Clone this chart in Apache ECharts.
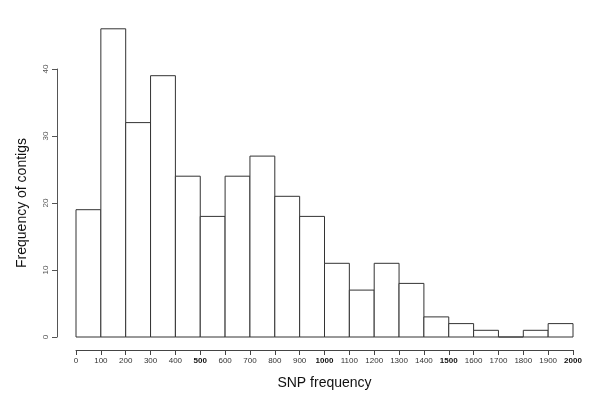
<!DOCTYPE html>
<html>
<head>
<meta charset="utf-8">
<script src="https://cdn.jsdelivr.net/npm/echarts@6/dist/echarts.min.js"></script>
<style>
  html, body { margin: 0; padding: 0; background: #fff; }
  #chart { width: 600px; height: 406px; }
</style>
</head>
<body>
<div id="chart"></div>
<script>
// histogram bins (width 100) and counts
const binStarts = [0, 100, 200, 300, 400, 500, 600, 700, 800, 900, 1000, 1100, 1200, 1300, 1400, 1500, 1600, 1700, 1800, 1900]
const binWidth = 100
const counts = [19, 46, 32, 39, 24, 18, 24, 27, 21, 18, 11, 7, 11, 8, 3, 2, 1, 0, 1, 2]
const boldTicks = [500, 1000, 1500, 2000]

const chart = echarts.init(document.getElementById('chart'))

const barData = binStarts.map((s, i) => [s, s + binWidth, counts[i]])

chart.setOption({
  animation: false,
  textStyle: { fontFamily: 'Liberation Sans, Arial, sans-serif' },
  grid: [
    { left: 76, right: 27, top: 2, bottom: 69 },   // bars
    { left: 76, right: 27, top: 69, bottom: 69 }   // y axis 0..40
  ],
  xAxis: [
    {
      type: 'value', gridIndex: 0, min: 0, max: 2000, interval: 100,
      offset: 13,
      name: 'SNP frequency', nameLocation: 'middle', nameGap: 26,
      nameTextStyle: { fontSize: 14, color: '#111' },
      axisLine: { show: true, onZero: false, lineStyle: { color: '#444', width: 1 } },
      axisTick: { show: true, length: 5, lineStyle: { color: '#444' } },
      axisLabel: {
        fontSize: 8, color: '#333', margin: 7, showMinLabel: true, showMaxLabel: true,
        formatter: v => boldTicks.includes(v) ? '{b|' + v + '}' : String(v),
        rich: { b: { fontSize: 8, fontWeight: 'bold', color: '#111' } }
      },
      splitLine: { show: false }
    },
    { type: 'value', gridIndex: 1, min: 0, max: 2000, show: false }
  ],
  yAxis: [
    { type: 'value', gridIndex: 0, min: 0, max: 50, show: false },
    {
      type: 'value', gridIndex: 1, min: 0, max: 40, interval: 10,
      offset: 19,
      name: 'Frequency of contigs', nameLocation: 'middle', nameGap: 28,
      nameTextStyle: { fontSize: 14, color: '#111' },
      axisLine: { show: true, onZero: false, lineStyle: { color: '#555', width: 1 } },
      axisTick: { show: true, length: 5, lineStyle: { color: '#555' } },
      axisLabel: { fontSize: 8, color: '#555', rotate: 90, margin: 7 },
      splitLine: { show: false }
    }
  ],
  series: [{
    type: 'custom',
    xAxisIndex: 0,
    yAxisIndex: 0,
    data: barData,
    renderItem: (params, api) => {
      const p0 = api.coord([api.value(0), 0])
      const p1 = api.coord([api.value(1), api.value(2)])
      return {
        type: 'rect',
        shape: { x: p0[0], y: p1[1], width: p1[0] - p0[0], height: p0[1] - p1[1] },
        style: { fill: '#fff', stroke: '#333', lineWidth: 1 }
      }
    }
  }]
})
</script>
</body>
</html>
